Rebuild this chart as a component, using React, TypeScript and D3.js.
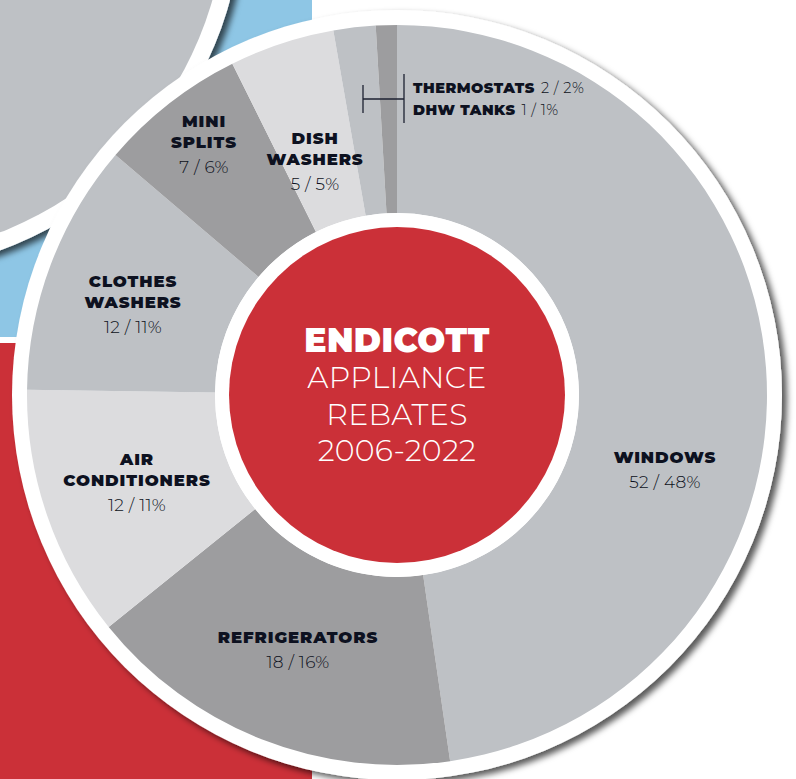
import React from 'react';
import * as d3 from 'd3';

// rebate counts, clockwise from 12 o'clock
const categories = ['WINDOWS', 'REFRIGERATORS', 'AIR CONDITIONERS', 'CLOTHES WASHERS', 'MINI SPLITS', 'DISH WASHERS', 'THERMOSTATS', 'DHW TANKS'];
const counts = [52, 18, 12, 12, 7, 5, 2, 1];
const shares = [48, 16, 11, 11, 6, 5, 2, 1];
const nameLines = [['WINDOWS'], ['REFRIGERATORS'], ['AIR', 'CONDITIONERS'], ['CLOTHES', 'WASHERS'], ['MINI', 'SPLITS'], ['DISH', 'WASHERS'], ['THERMOSTATS'], ['DHW TANKS']];
const titleLines = ['ENDICOTT', 'APPLIANCE', 'REBATES', '2006-2022'];

// label anchors (centre x, first baseline y) for the big slices
const labelPos: Record<string, [number, number]> = {
  'WINDOWS': [665, 463],
  'REFRIGERATORS': [298, 643],
  'AIR CONDITIONERS': [137, 465],
  'CLOTHES WASHERS': [133, 287],
  'MINI SPLITS': [204, 127],
  'DISH WASHERS': [315, 144],
};

const W = 796;
const H = 779;
const cx = 397;
const cy = 395;
const rOuter = 370;
const rInner = 182;
const rRed = 168;

const BOLD = 'Montserrat, Inter, "Open Sans", sans-serif';
const INK = '#0d1120';

const App = () => {
  const data = categories.map((c, i) => ({ name: c, count: counts[i], share: shares[i], lines: nameLines[i] }));

  const color = d3.scaleOrdinal<string, string>()
    .domain(categories)
    .range(['#bec1c5', '#9d9d9f', '#dcdcde']);

  const pie = d3.pie<any>().sort(null).value(d => d.count);
  const arc = d3.arc<any>().innerRadius(rInner).outerRadius(rOuter);
  const arcs = pie(data);

  const small = data.filter(d => d.name === 'THERMOSTATS' || d.name === 'DHW TANKS');

  return (
    <svg width={W} height={H} style={{ position: 'absolute', left: 0, top: 0, background: '#fff' }}>
      <defs>
        <filter id="shadow" x="-20%" y="-20%" width="140%" height="140%">
          <feDropShadow dx="5" dy="4" stdDeviation="3" floodColor="#000" floodOpacity="0.65" />
        </filter>
      </defs>

      {/* backdrop panels */}
      <rect x={0} y={0} width={312} height={337} fill="#8ec6e5" />
      <rect x={0} y={343} width={312} height={H - 343} fill="#cb3038" />

      {/* neighbouring circle peeking in at the top left */}
      <circle cx={-127} cy={-97} r={370} fill="#fff" filter="url(#shadow)" />
      <circle cx={-127} cy={-97} r={353} fill="#bec1c5" />

      {/* donut */}
      <circle cx={cx} cy={cy} r={385} fill="#fff" filter="url(#shadow)" />
      <g transform={`translate(${cx},${cy})`}>
        {arcs.map(a => (
          <path key={a.data.name} d={arc(a) as string} fill={color(a.data.name)} />
        ))}
        <circle r={rInner} fill="#fff" />
        <circle r={rRed} fill="#cb3038" />
      </g>

      {/* centre title */}
      <g textAnchor="middle" fill="#fff" fontFamily={BOLD}>
        {titleLines.map((t, i) => (
          <text key={t} x={cx} y={352 + i * 36.3} fontSize={i === 0 ? 33 : 30}
            fontWeight={i === 0 ? 900 : 300} letterSpacing={i === 0 ? 0.4 : 0.3}>{t}</text>
        ))}
      </g>

      {/* slice labels */}
      {data.filter(d => labelPos[d.name]).map(d => {
        const [lx, ly] = labelPos[d.name];
        return (
          <g key={d.name} textAnchor="middle" fill={INK} fontFamily={BOLD}>
            {d.lines.map((l, i) => (
              <text key={l} x={lx} y={ly + i * 21} fontSize={16.5} fontWeight={900} letterSpacing={0.9}>{l}</text>
            ))}
            <text x={lx} y={ly + (d.lines.length - 1) * 21 + 25} fontSize={17} fontWeight={300} letterSpacing={0.3}>
              {`${d.count} / ${d.share}%`}
            </text>
          </g>
        );
      })}

      {/* bracket callout for the two thin slices */}
      <g stroke="#1c2130" strokeWidth={1.3}>
        <line x1={404} y1={74} x2={404} y2={123} />
        <line x1={363} y1={99} x2={404} y2={99} />
        <line x1={363} y1={85} x2={363} y2={113} />
      </g>
      {small.map((d, i) => (
        <text key={d.name} x={413} y={93 + i * 22} fill={INK} fontFamily={BOLD} fontSize={14.5} letterSpacing={0.5}>
          <tspan fontWeight={900}>{d.name}</tspan>
          <tspan fontWeight={300} dx={6}>{`${d.count} / ${d.share}%`}</tspan>
        </text>
      ))}
    </svg>
  );
};

export default App;
